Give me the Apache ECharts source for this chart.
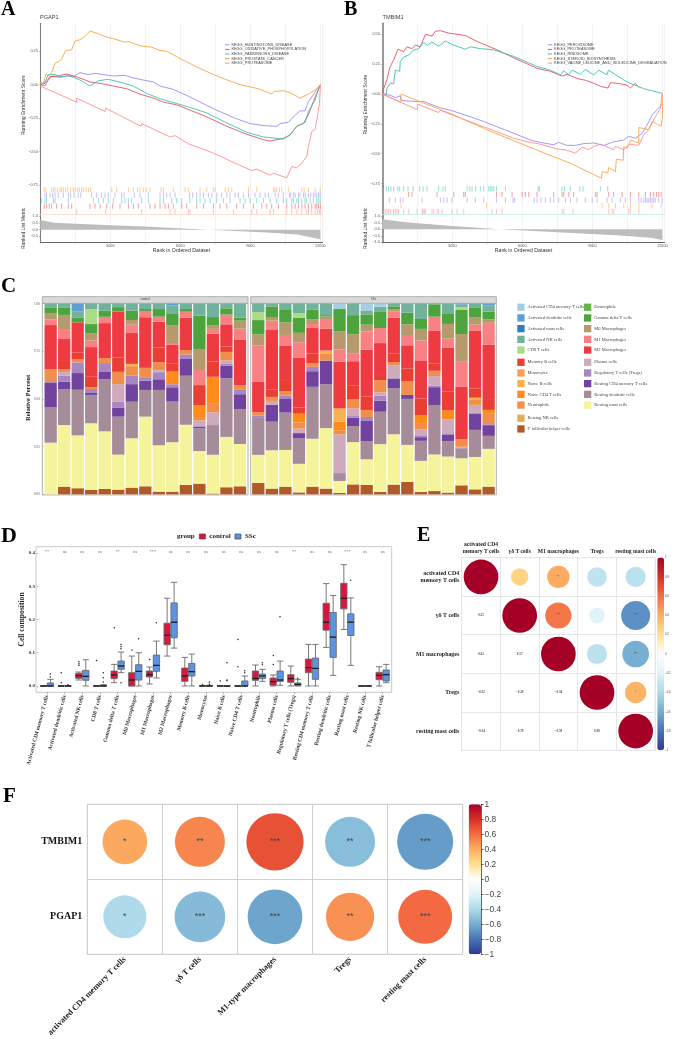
<!DOCTYPE html>
<html>
<head>
<meta charset="utf-8">
<style>html,body{margin:0;padding:0;background:#fff}#chart{width:674px;height:1039px}</style>
<script src="https://cdn.jsdelivr.net/npm/echarts@6/dist/echarts.min.js"></script>
</head>
<body>
<div id="chart"></div>
<script>
// ---------- GSEA running scores: [rank, enrichment score] ----------
const pgap1Huntington = [[0,0],[200,-.01],[345,.035],[485,.065],[770,.055],[1130,.065],[1415,.06],[1700,.09],[2060,.075],[2345,.085],[2700,.075],[3130,.065],[3630,.07],[3985,.05],[4415,.035],[4845,.02],[5130,-.01],[5700,-.035],[6275,-.08],[6845,-.13],[7560,-.19],[8275,-.245],[8990,-.29],[9560,-.305],[10130,-.31],[10275,-.29],[10630,-.28],[10845,-.24],[11130,-.195],[11345,-.195],[11490,-.125],[11700,-.075],[11845,-.035],[12000,0]];
const pgap1Oxphos = [[0,0],[200,.01],[415,.06],[770,.065],[1130,.08],[1700,.05],[2130,.02],[2560,.01],[3130,-.01],[3700,-.03],[4270,-.07],[4845,-.1],[5275,-.13],[5845,-.15],[6420,-.19],[7130,-.24],[7990,-.31],[8845,-.37],[9560,-.41],[9845,-.42],[10415,-.4],[10700,-.375],[10990,-.31],[11275,-.29],[11490,-.225],[11700,-.125],[11845,-.065],[12000,0]];
const pgap1Parkinson = [[0,0],[200,.02],[345,.075],[630,.075],[915,.055],[1200,.07],[1700,.035],[2130,-.01],[2490,.03],[2915,.04],[3415,.02],[3985,-.01],[4560,-.065],[5130,-.105],[5845,-.14],[6420,-.17],[7130,-.21],[7990,-.285],[8845,-.355],[9560,-.39],[10415,-.405],[10700,-.375],[10990,-.31],[11345,-.28],[11490,-.2],[11775,-.115],[11915,-.04],[12000,-.005]];
const pgap1Prostate = [[0,.017],[130,.01],[240,.08],[360,.065],[485,.09],[630,.16],[770,.17],[915,.19],[1085,.255],[1345,.26],[1485,.325],[1700,.335],[1915,.36],[2130,.4],[2415,.385],[2845,.355],[3200,.34],[3560,.32],[3815,.32],[4270,.29],[4770,.28],[5130,.255],[5415,.25],[5990,.195],[6845,.12],[7700,.055],[8560,0],[9345,-.03],[9915,-.07],[10015,-.05],[10415,-.045],[10775,-.065],[11130,-.1],[11490,-.07],[11775,-.04],[12000,-.005]];
const pgap1Proteasome = [[0,-.01],[1560,-.13],[1560,-.1],[2775,-.2],[2800,-.175],[4315,-.31],[4345,-.29],[5560,-.39],[5775,-.38],[6345,-.44],[6415,-.43],[7415,-.51],[8275,-.58],[9060,-.64],[9275,-.63],[9845,-.675],[9990,-.66],[10560,-.695],[10775,-.61],[10990,-.62],[11205,-.585],[11415,-.535],[11490,-.46],[11630,-.35],[11775,-.335],[11875,-.24],[11960,-.14],[12000,0]];

const tmbim1Peroxisome = [[0,0],[345,-.01],[560,-.03],[770,-.015],[815,-.055],[1630,-.065],[1745,-.06],[2130,-.09],[2490,-.115],[2985,-.14],[3770,-.19],[4345,-.23],[5060,-.285],[5775,-.34],[6415,-.39],[6775,-.405],[7345,-.425],[7560,-.405],[7915,-.43],[8275,-.43],[8630,-.415],[9060,-.41],[9490,-.43],[9915,-.4],[10345,-.385],[10560,-.355],[10845,-.37],[11130,-.33],[11345,-.26],[11560,-.175],[11775,-.13],[12000,-.085]];
const tmbim1Proteasome = [[0,0],[60,.045],[200,.12],[315,.22],[485,.285],[670,.375],[915,.355],[1060,.395],[1270,.38],[1415,.41],[1630,.395],[1745,.45],[1845,.5],[2130,.485],[2275,.525],[2490,.53],[2845,.51],[3200,.5],[3560,.49],[4060,.44],[4915,.37],[5775,.29],[6630,.215],[7200,.19],[7700,.15],[7915,.165],[8345,.13],[8700,.115],[9060,.09],[9345,.065],[9660,.05],[9775,.095],[10060,.09],[10490,.075],[10630,.05],[10845,.09],[10990,.055]];
const tmbim1Ribosome = [[0,0],[170,0],[200,.05],[345,.09],[485,.085],[560,.2],[745,.19],[770,.27],[915,.31],[1130,.325],[1315,.365],[1560,.38],[1770,.43],[1945,.41],[2130,.435],[2415,.4],[2700,.445],[2985,.415],[3560,.375],[3770,.395],[4200,.38],[4775,.37],[5630,.315],[6630,.23],[6700,.24],[7200,.2],[7630,.16],[7775,.195],[7990,.16],[8130,.2],[8490,.165],[8700,.205],[9060,.16],[9275,.2],[9630,.16],[9690,.2],[10490,.1],[11200,.045],[12000,.005]];
const tmbim1Steroid = [[0,0],[800,-.07],[800,0],[3060,-.175],[4490,-.3],[5630,-.39],[6630,-.47],[8060,-.58],[9390,-.705],[9420,-.65],[9660,-.66],[9705,-.615],[9990,-.65],[10030,-.545],[10320,-.555],[10345,-.44],[10490,-.455],[10630,-.385],[10990,-.41],[10990,-.28],[11415,-.3],[11560,-.23],[11945,-.27],[12000,-.2],[12000,0]];
const tmbim1Valine = [[0,0],[1490,-.13],[1530,-.085],[2415,-.155],[2490,-.135],[2985,-.175],[4490,-.285],[5630,-.37],[6200,-.4],[6775,-.42],[7490,-.46],[7915,-.47],[8275,-.495],[8560,-.445],[8845,-.465],[9060,-.44],[9345,-.42],[9915,-.465],[9990,-.44],[10345,-.465],[10600,-.42],[10990,-.43],[11200,-.34],[11415,-.3],[11700,-.19],[11915,-.12],[11990,.005],[12000,0]];

// ---------- Gene-set hit positions (rank) ----------
const pgap1HitsProstate = [170,240,485,560,630,730,845,915,985,1085,1170,1300,1415,1485,1585,1670,1770,1845,1960,2060,2160,3060,3275,3775,3990,4160,4270,4415,4560,4700,5175,5275,5700,6200,6345,6845,7130,7415,7490,7920,8060,8205,8920,9275,9990,10060,10130,10250,10345,10630,11205,11300,11490,11775,11990];
const pgap1HitsHuntington = [200,270,415,530,630,770,985,1200,1300,1445,1630,1730,2200,2415,2630,2775,2915,3200,3485,3590,4030,4275,4630,5130,5275,5415,5560,5775,6390,6530,6700,6845,6990,7200,7345,7560,7775,7990,8130,8345,8490,8700,8920,9200,9415,9630,9775,10060,10200,10415,10675,10730,10845,10920,11060,11130,11275,11345,11490,11590,11700,11775,11845,11920,11990];
const pgap1HitsParkinson = [60,200,270,560,630,1200,2270,2490,2700,2915,3130,3490,3630,3770,3915,4345,4630,5130,5275,5630,5845,6060,6415,6700,6845,7060,7275,7560,7845,8130,8560,8775,8990,9275,9560,9845,10130,10415,10560,10775,10845,10990,11060,11205,11345,11415,11560,11700,11845,11915,11990];
const pgap1HitsOxphos = [170,270,385,485,700,915,1200,1345,2130,2345,2560,2845,3100,3415,3775,3990,4200,4700,4915,5130,5345,5490,5700,6060,6275,6700,6990,7415,7700,7990,8415,8700,9130,9490,9700,9915,10200,10560,10775,10920,11060,11205,11345,11490,11630,11775,11845,11920,12000];
const pgap1HitsProteasome = [1560,2800,4345,5560,5775,6345,6415,7415,8275,9060,9275,9845,9990,10560,10775,10990,11205,11415,11490,11630,11775,11875,11960,12000];

const tmbim1HitsRibosome = [170,270,370,485,670,745,915,1100,1315,1600,1745,1915,2415,2600,2700,3630,3745,3845,4000,4200,4345,4560,4630,4700,4775,4890,5275,6675,6730,7700,7800,8060,8460,8600,9345,9660];
const tmbim1HitsProteasome = [1130,1270,2345,3060,3490,3560,4890,5130,5560,5990,6130,6275,6630,7345,7700,7775,7990,8200,9130,9200,9700,9915,10275,10630,10990,11275,11490,11630,11745,11845,11945];
const tmbim1HitsPeroxisome = [300,560,770,885,1700,2490,2630,2775,2985,3630,3985,4345,4890,5275,5600,5660,6515,6630,6800,6985,7200,7345,7560,7845,8060,8345,8700,8990,9200,9630,9845,10200,10415,10630,10990,11090,11205,11275,11345,11415,11490,11560,11630,11700,11845,11990];
const tmbim1HitsSteroid = [800,4460,9420,9705,9990,10345,10630,10990,11560,11945];
const tmbim1HitsValine = [60,130,200,270,345,485,560,630,700,915,1130,1490,1700,1745,1800,1845,2130,2200,2345,2415,2560,2985,3200,3490,4700,4890,5130,7700,7775,8175,9700,9845,9915,10560,10630,10990];

// ---------- Ranked list metric: [rank, metric] ----------
const pgap1Metric = [[0,.72],[600,.52],[2500,.37],[4700,.22],[7200,0],[9700,-.2],[11000,-.35],[12000,-.72]];
const tmbim1Metric = [[0,.78],[1000,.55],[3000,.25],[5000,0],[7500,-.22],[10000,-.45],[11500,-.65],[12000,-.83]];

// ---------- Immune cell composition per sample (percent) ----------
const cellOrder = ['T follicular helper cells','Resting NK cells','Resting mast cells','Resting dendritic cells','Resting CD4 memory T cells','Regulatory T cells (Tregs)','Plasma cells','Neutrophils','Naive CD4 T cells','Naive B cells','Monocytes','Memory B cells','M2 Macrophages','M1 Macrophages','M0 Macrophages','Gamma delta T cells','Eosinophils','CD8 T cells','Activated NK cells','Activated mast cells','Activated dendritic cells','Activated CD4 memory T cells'];
const cellKeys = ['tfh','rnk','mast','rdc','rcd4','treg','plas','neut','ncd4','nb','mono','memb','m2','m1','m0','gd','eos','cd8','ank','amast','adc','acd4'];
const cellColors = ['#B15928','#DDB060','#F6F49A','#A68C99','#71439F','#A786C2','#CFA9BC','#EF8F4B','#FF8C1A','#FDB050','#F99D5F','#E93E33','#EE3B41','#F98083','#B69A6E','#4DA43C','#66B34A','#A9DC85','#72B29C','#2E7FB8','#5F9FD0','#A6CEE3'];
const controlSamples = [
 {mast:27.1,rdc:18.7,rcd4:12.6,treg:.5,neut:6.8,m2:23.1,m1:3,m0:3.3,gd:3,ank:1.9},
 {tfh:4,mast:32.4,rdc:18.7,rcd4:4,treg:3.2,plas:1.9,neut:1.4,memb:4.9,m2:11.4,m1:4.9,m0:7.4,gd:4,ank:1.9},
 {tfh:3.2,mast:27.8,rdc:24,rcd4:8.8,treg:5.6,neut:1.8,memb:3.5,m2:15.8,gd:2.6,ank:3,adc:4.2},
 {tfh:2.3,mast:35,rdc:14.9,rcd4:1,treg:2.1,neut:1,memb:5.4,m2:15.6,m1:3.5,m0:3.9,gd:4.7,cd8:7.9,ank:2.8},
 {tfh:2.8,mast:30.3,rdc:27.3,rcd4:4.2,treg:4.4,neut:2.6,m2:18.4,m1:3.3,gd:3.2,ank:3.7},
 {tfh:2.5,mast:18.4,rdc:20,rcd4:4.6,treg:3.2,plas:9.3,neut:6.5,memb:7.5,m2:24.3,gd:2.3,ank:1.8},
 {tfh:3.5,mast:26.1,rdc:19.3,rcd4:9.3,treg:4.6,neut:4.9,nb:1.2,m2:16.3,m1:4.4,m0:2.5,gd:4.9,ank:3.7},
 {tfh:4.2,mast:36.6,rdc:14,rcd4:4.9,treg:1.8,neut:4.9,m2:26.6,m1:3.3,gd:1,ank:2.8},
 {tfh:1.4,mast:24.3,rdc:29,rcd4:5.6,treg:3.7,plas:1,neut:4.2,memb:7.7,m2:13.6,m1:2.6,gd:4,ank:2.8},
 {tfh:1.4,mast:25.9,rdc:21.3,rcd4:7.5,treg:1.6,ncd4:6.6,memb:4.4,m2:9.6,m1:1,m0:9.1,gd:6.5,ank:4,adc:1},
 {tfh:4.9,mast:31.6,rdc:25.7,rcd4:9.1,treg:2.1,neut:2.3,m2:17,m1:3.1,gd:1.4,ank:2.8},
 {tfh:5.6,mast:17.1,rdc:11.9,rcd4:1,plas:3.1,neut:1.8,ncd4:6.1,memb:10.7,m1:7.9,m0:11,gd:17.5,ank:6.3},
 {tfh:.4,mast:20.3,rdc:15.6,plas:6.6,neut:4.5,ncd4:14.2,memb:8,m2:14.5,m1:2.6,m0:1.7,gd:4.5,ank:7},
 {tfh:3.7,mast:26.4,rdc:30.8,rcd4:6.6,treg:.9,plas:1.9,neut:4.4,memb:2.8,m2:11.7,m1:5.1,gd:3.3,ank:2.4},
 {tfh:4.2,mast:22.2,rdc:18.2,rcd4:7.9,treg:2.3,neut:2.4,m2:24.1,m1:5.6,m0:4.2,gd:1.6,ank:7.3}
];
const sscSamples = [
 {tfh:6,mast:14.7,rdc:19.8,treg:.9,neut:1.7,m2:16.1,m1:18.9,m0:5.8,gd:7.5,cd8:4.2,ank:4.4},
 {tfh:3,mast:20.1,rdc:15,rcd4:8.8,plas:2.1,neut:2.1,memb:4,m2:31.1,m1:4.9,m0:1.9,gd:5.6,ank:1.4},
 {tfh:4,mast:19.3,rdc:19.6,rcd4:7.5,treg:1.4,neut:2.4,memb:5.8,m2:17.9,m1:5.8,m0:6.5,gd:6.6,ank:3.3},
 {tfh:1,mast:15,rdc:13.3,rcd4:2.8,plas:2.4,neut:3.2,ncd4:4.6,memb:3.2,m2:26.3,m1:8,m0:4.9,gd:8,cd8:2.4,ank:4.9},
 {tfh:4,mast:25.2,rdc:27.3,rcd4:8.2,treg:2.3,neut:1.8,memb:5.3,m2:13.3,m1:2.1,m0:2.6,gd:5.1,ank:3},
 {tfh:3,mast:31.8,rdc:23.1,rcd4:12.4,neut:3.5,nb:1.8,m2:11.4,m1:4.7,m0:1.8,gd:.7,ank:6},
 {tfh:.7,mast:6.3,rdc:3.5,rcd4:.5,plas:20.5,neut:1.9,ncd4:4.7,nb:7,m2:24.5,m1:6.5,m0:9.6,gd:11.6,acd4:2.8},
 {tfh:5.2,mast:22.2,rdc:8.4,rcd4:4.4,treg:.9,plas:4,neut:4.7,memb:7.5,m2:12.6,m1:4.2,m0:10,gd:10,ank:6},
 {tfh:4.9,mast:13.5,rdc:9.6,rcd4:10.8,treg:1.8,neut:3.7,memb:7,m2:24.7,m1:9.6,m0:3.5,gd:5.4,ank:2.1,acd4:3.5},
 {tfh:1.2,mast:25.2,rdc:17,rcd4:5.8,treg:2.6,plas:1.8,neut:6.5,memb:2.6,m2:16.8,m1:7.9,gd:8.8,ank:2.4,acd4:1.6},
 {tfh:5.1,mast:26.4,rdc:24.1,rcd4:5.2,plas:7,neut:1.6,memb:4.6,m2:18.7,m1:3.3,m0:1,gd:1.6,ank:1.4},
 {tfh:6.5,mast:19.4,rdc:24.1,rcd4:2.1,neut:7.3,memb:6.6,m2:12.1,m1:5.4,m0:5.6,gd:6.1,ank:4.7},
 {tfh:1.2,mast:16.3,rdc:10.5,rcd4:1.9,treg:1,plas:3.1,neut:3.3,ncd4:4.2,memb:8.7,m2:19.6,m1:10.7,m0:6.1,gd:5.2,ank:8},
 {tfh:1.7,mast:19.2,rdc:25.9,rcd4:9.4,treg:.7,plas:5.1,neut:2.8,memb:3.7,m2:17.5,m1:7.2,gd:6.5,ank:.3},
 {tfh:.9,mast:18.9,rdc:8,rcd4:3.3,treg:.9,plas:7.3,ncd4:4.7,memb:9.8,m2:22.9,m1:4.9,m0:7.7,gd:5.2,ank:5.4},
 {tfh:4.7,mast:14.2,rdc:5.2,treg:.5,plas:.3,neut:4,m2:27.6,m1:13.3,m0:14.2,gd:12.6,cd8:1.6,ank:1.2,adc:.5},
 {tfh:2.6,mast:17,rdc:14.2,rcd4:8.6,treg:.3,plas:4.2,neut:2.6,nb:1.2,memb:4.9,m2:30.1,m1:3.3,m0:4,gd:5.1,ank:1.9},
 {tfh:4,mast:19.8,rdc:6.8,rcd4:5.6,treg:.5,neut:5.4,ncd4:2.1,memb:5.2,m2:28.9,m1:11.5,m0:1.7,gd:4.2,ank:3.1,adc:1}
];
const legendColumnOne = [['Activated CD4 memory T cells','Activated dendritic cells','Activated mast cells','Activated NK cells','CD8 T cells'],['Memory B cells','Monocytes','Naive B cells','Naive CD4 T cells','Neutrophils'],['Resting NK cells','T follicular helper cells']];
const legendColumnTwo = [['Eosinophils','Gamma delta T cells','M0 Macrophages','M1 Macrophages','M2 Macrophages'],['Plasma cells','Regulatory T cells (Tregs)','Resting CD4 memory T cells','Resting dendritic cells','Resting mast cells']];

// ---------- Box plot summaries: [min, Q1, median, Q3, max] ----------
const boxCategories = ['Activated CD4 memory T cells','Activated dendritic cells','Activated NK cells','CD8 T cells','Gamma delta T cells','M0 Macrophages','M1 Macrophages','M2 Macrophages','Memory B cells','Monocytes','Naive B cells','Naive CD4 T cells','Neutrophils','Plasma cells','Regulatory T cells (Tregs)','Resting CD4 memory T cells','Resting dendritic cells','Resting mast cells','Resting NK cells','T follicular helper cells'];
const controlBoxes = [[0,0,0,0,0],[0,0,0,0,0],[.018,.023,.031,.038,.042],[0,0,0,0,0],[.01,.022,.033,.045,.065],[0,0,.018,.04,.09],[.006,.027,.034,.045,.057],[.09,.124,.153,.189,.264],[0,.014,.03,.054,.086],[0,0,0,.001,.001],[0,0,0,0,0],[0,0,0,0,0],[0,.017,.023,.045,.063],[0,.002,.013,.024,.033],[0,.011,.022,.034,.06],[0,.04,.055,.081,.125],[.116,.168,.192,.249,.308],[.17,.232,.264,.309,.365],[0,0,0,0,0],[0,.019,.032,.041,.058]];
const sscBoxes = [[0,0,0,.009,.02],[0,0,0,0,0],[0,.017,.029,.047,.079],[0,0,0,.002,.004],[.04,.05,.06,.075,.102],[0,.018,.044,.064,.1],[.024,.044,.062,.093,.135],[.114,.145,.192,.25,.312],[0,.03,.043,.068,.096],[0,0,0,.001,.002],[0,0,0,0,0],[0,0,0,.015,.03],[.014,.022,.03,.036,.05],[.002,.014,.018,.045,.075],[0,.001,.005,.009,.02],[0,.02,.053,.084,.125],[.032,.086,.147,.221,.272],[.062,.152,.192,.217,.265],[0,0,0,0,0],[.01,.015,.034,.048,.065]];
const controlOutliers = [[1,.01],[1,.04],[2,.062],[2,.067],[2,.073],[3,.077],[4,.175],[5,.108],[6,.08],[9,.004],[10,.015],[11,.058],[11,.14],[13,.065],[13,.092]];
const sscOutliers = [[0,.027],[0,.036],[1,.004],[3,.012],[3,.025],[3,.04],[4,.01],[4,.112],[4,.118],[4,.125],[5,.142],[6,.19],[9,.005],[9,.012],[10,.016],[10,.018],[10,.07],[11,.04],[11,.046],[12,.064],[12,.07],[13,.208],[14,.023],[17,.318]];
const boxSignificance = ['**','ns','ns','ns','**','ns','***','ns','ns','ns','ns','ns','ns','ns','**','ns','ns','***','ns','ns'];

// ---------- Correlation matrices ----------
const immuneLabels = ['activated CD4\nmemory T cells','γδ T cells','M1 macrophages','Tregs','resting mast cells'];
const immuneCorr = [[1,.25,.41,-.32,-.34],[.25,1,.57,-.2,-.7],[.41,.57,1,-.34,-.59],[-.32,-.2,-.34,1,.38],[-.34,-.7,-.59,.38,1]];
const immuneStars = [['***','','**','',''],['','***','***','','***'],['','','***','','***'],['','','','***','*'],['','','','','***']];
const geneLabels = ['TMBIM1','PGAP1'];
const geneCellLabels = ['activated CD4 memory T cells','γδ T cells','M1-type macrophages','Tregs','resting mast cells'];
const geneCorr = [[.42,.525,.69,-.525,-.66],[-.39,-.54,-.63,.49,.61]];
const geneStars = [['*','**','***','**','***'],['*','***','***','**','***']];
const corrPalette = ['#313695','#4575B4','#74ADD1','#ABD9E9','#E0F3F8','#FFFFFF','#FEE090','#FDAE61','#F46D43','#D73027','#A50026'];

const SERIF = '"Liberation Serif","Times New Roman",serif';
const SANS = '"Liberation Sans",Arial,sans-serif';
const PURPLE = '#9A8CF2', RED = '#E5545A', TEAL = '#3FC1B0', ORANGE = '#FBA644', PINK = '#FF8F93';

const grid = [], xAxis = [], yAxis = [], series = [], title = [], legend = [], graphic = [], visualMap = [];

// Registers one grid with its axes and returns the shared index.
function addGrid(box, x, y) {
  grid.push(Object.assign({containLabel: false}, box));
  const g = grid.length - 1;
  xAxis.push(Object.assign({gridIndex: g}, x));
  yAxis.push(Object.assign({gridIndex: g}, y));
  return g;
}
function text(t, left, top, size, font, weight, color) {
  title.push({text: t, left, top, padding: 0, textStyle: {fontSize: size, fontFamily: font, fontWeight: weight || 'normal', color: color || '#222'}});
}
const signedFixed = d => v => v.toFixed(d).replace('-', '−');

// Draws one GSEA panel: running score, hit rug and ranked metric.
function gseaPanel(cfg) {
  const rankX = {type: 'value', min: 0, max: 12100, interval: 1500, axisLine: {show: false}, axisTick: {show: false}, axisLabel: {show: false}, splitLine: {show: true, lineStyle: {color: '#EDEDED', width: .7}}};
  const leftLine = {show: true, onZero: false, lineStyle: {color: '#808080', width: cfg.axisWidth}};
  const scoreAxis = {type: 'value', min: cfg.scoreMin, max: cfg.scoreMax, axisLine: leftLine, splitLine: {show: false},
    axisTick: {show: true, length: 1.5, lineStyle: {color: '#888', width: .5}, customValues: cfg.scoreTicks},
    axisLabel: {fontSize: 3.8, color: '#555', fontFamily: SANS, margin: 2.5, formatter: signedFixed(2), customValues: cfg.scoreTicks},
    name: 'Running Enrichment Score', nameLocation: 'middle', nameGap: cfg.nameGap, nameMoveOverlap: false, nameRotate: 90, nameTextStyle: {fontSize: 5, color: '#333', fontFamily: SANS}};
  const g1 = addGrid({left: cfg.left, width: cfg.width, top: 23.3, height: cfg.runHeight}, rankX, scoreAxis);
  cfg.curves.forEach(c => series.push({name: c.name, type: 'line', xAxisIndex: g1, yAxisIndex: g1, data: c.data, showSymbol: false, symbol: 'none', smooth: false, lineStyle: {color: c.color, width: .9}, itemStyle: {color: c.color}, silent: true, z: 3}));

  const rowNames = cfg.hits.map(h => h.row);
  const g2 = addGrid({left: cfg.left, width: cfg.width, top: cfg.rugTop, height: 214.3 - cfg.rugTop},
    Object.assign({}, rankX, {axisLine: {show: true, onZero: false, lineStyle: {color: cfg.baseline, width: .8}}}),
    {type: 'category', data: rowNames, inverse: true, axisLine: leftLine, axisTick: {show: false}, axisLabel: {show: false}, splitLine: {show: false}});
  cfg.hits.forEach(h => series.push({name: h.row, type: 'scatter', xAxisIndex: g2, yAxisIndex: g2, symbol: 'rect', symbolSize: [1, 5.2],
    data: h.ranks.map(r => [r, h.row]), itemStyle: {color: h.color, opacity: .55}, silent: true}));

  const metricAxis = {type: 'value', min: cfg.metricMin, max: cfg.metricMax, axisLine: leftLine, splitLine: {show: false},
    axisTick: {show: true, length: 1.5, lineStyle: {color: '#888', width: .5}, customValues: cfg.metricTicks},
    axisLabel: {fontSize: 3.8, color: '#555', fontFamily: SANS, margin: 2.5, formatter: signedFixed(1), customValues: cfg.metricTicks},
    name: 'Ranked List Metric', nameLocation: 'middle', nameGap: cfg.nameGap, nameMoveOverlap: false, nameRotate: 90, nameTextStyle: {fontSize: 5, color: '#333', fontFamily: SANS}};
  const g3 = addGrid({left: cfg.left, width: cfg.width, top: 214.3, height: 28},
    Object.assign({}, rankX, {axisLine: {show: true, onZero: false, lineStyle: {color: '#666', width: 1}},
      axisTick: {show: true, length: 1.5, lineStyle: {color: '#888', width: .5}},
      axisLabel: {show: true, fontSize: 3.8, color: '#555', fontFamily: SANS, margin: 1.5, showMaxLabel: false, formatter: v => (v > 0 && v % 3000 === 0) ? String(v) : ''},
      name: 'Rank in Ordered Dataset', nameLocation: 'middle', nameGap: 5.8, nameMoveOverlap: false, nameTextStyle: {fontSize: 5.2, color: '#333', fontFamily: SANS}}),
    metricAxis);
  series.push({name: cfg.gene + ' metric', type: 'line', xAxisIndex: g3, yAxisIndex: g3, data: cfg.metric, showSymbol: false, symbol: 'none', lineStyle: {width: 0}, areaStyle: {color: '#BDBDBD', opacity: 1}, silent: true});

  legend.push({show: true, orient: 'vertical', left: cfg.legendLeft, top: 42.8, padding: 0, itemGap: .6, itemWidth: 4.4, itemHeight: 1, icon: 'rect', selectedMode: false, textStyle: {fontSize: 3.9, fontFamily: SANS, color: '#444', padding: [0, 0, 0, -3]},
    data: cfg.curves.map(c => ({name: c.name, itemStyle: {color: c.color}, textStyle: {fontSize: 3.9}}))});
}

gseaPanel({gene: 'PGAP1', left: 40.3, width: 282.4, runHeight: 163.7, rugTop: 187, scoreMin: -.763, scoreMax: .458, scoreTicks: [-.75, -.5, -.25, 0, .25],
  metricMin: -.94, metricMax: 1.15, metricTicks: [-.5, 0, .5, 1], nameGap: 13.8, axisWidth: 1.1, baseline: '#FFD9C4', legendLeft: 225, metric: pgap1Metric,
  curves: [{name: 'KEGG_HUNTINGTONS_DISEASE', color: PURPLE, data: pgap1Huntington}, {name: 'KEGG_OXIDATIVE_PHOSPHORYLATION', color: RED, data: pgap1Oxphos}, {name: 'KEGG_PARKINSONS_DISEASE', color: TEAL, data: pgap1Parkinson}, {name: 'KEGG_PROSTATE_CANCER', color: ORANGE, data: pgap1Prostate}, {name: 'KEGG_PROTEASOME', color: PINK, data: pgap1Proteasome}],
  hits: [{row: 'PGAP1 prostate', color: ORANGE, ranks: pgap1HitsProstate}, {row: 'PGAP1 huntington', color: PURPLE, ranks: pgap1HitsHuntington}, {row: 'PGAP1 parkinson', color: TEAL, ranks: pgap1HitsParkinson}, {row: 'PGAP1 oxphos', color: RED, ranks: pgap1HitsOxphos}, {row: 'PGAP1 proteasome', color: PINK, ranks: pgap1HitsProteasome}]});

gseaPanel({gene: 'TMBIM1', left: 382.3, width: 282.4, runHeight: 162.7, rugTop: 186, scoreMin: -.77, scoreMax: .592, scoreTicks: [-.75, -.5, -.25, 0, .25, .5],
  metricMin: -1.0, metricMax: 1.16, metricTicks: [-1, -.5, 0, .5, 1], nameGap: 14.5, axisWidth: 1.6, baseline: '#BFEDE6', legendLeft: 547.7, metric: tmbim1Metric,
  curves: [{name: 'KEGG_PEROXISOME', color: PURPLE, data: tmbim1Peroxisome}, {name: 'KEGG_PROTEASOME', color: RED, data: tmbim1Proteasome}, {name: 'KEGG_RIBOSOME', color: TEAL, data: tmbim1Ribosome}, {name: 'KEGG_STEROID_BIOSYNTHESIS', color: ORANGE, data: tmbim1Steroid}, {name: 'KEGG_VALINE_LEUCINE_AND_ISOLEUCINE_DEGRADATION', color: PINK, data: tmbim1Valine}],
  hits: [{row: 'TMBIM1 ribosome', color: TEAL, ranks: tmbim1HitsRibosome}, {row: 'TMBIM1 proteasome', color: RED, ranks: tmbim1HitsProteasome}, {row: 'TMBIM1 peroxisome', color: PURPLE, ranks: tmbim1HitsPeroxisome}, {row: 'TMBIM1 steroid', color: ORANGE, ranks: tmbim1HitsSteroid}, {row: 'TMBIM1 valine', color: PINK, ranks: tmbim1HitsValine}]});

text('PGAP1', 40, 14.6, 5.6, SANS, 'normal', '#444');
text('TMBIM1', 382.5, 14.6, 5.6, SANS, 'normal', '#444');

// ---------- Stacked composition facets ----------
function compositionFacet(samples, box, withAxis, frame, strip) {
  const normal = samples.map(s => {
    const total = cellKeys.reduce((a, k) => a + (s[k] || 0), 0);
    return cellKeys.map(k => (s[k] || 0) / total * 100);
  });
  const g = addGrid(box,
    {type: 'category', data: samples.map((_, i) => i + 1), axisLine: {show: false}, axisTick: {show: false}, axisLabel: {show: false}},
    {type: 'value', min: 0, max: 100, interval: 25, splitLine: {show: false}, axisLine: {show: false, onZero: false},
      axisTick: {show: withAxis, length: 1.5, lineStyle: {color: '#888', width: .5}, inside: false},
      axisLabel: {show: withAxis, fontSize: 3.4, color: '#555', fontFamily: SERIF, margin: 4, formatter: v => (v / 100).toFixed(2)}});
  cellOrder.forEach((name, c) => series.push({name, type: 'bar', stack: 'facet' + g, xAxisIndex: g, yAxisIndex: g, barWidth: 12.3,
    data: normal.map(row => row[c]), itemStyle: {color: cellColors[c]}, silent: true}));
  graphic.push({type: 'rect', shape: frame, style: {fill: 'none', stroke: '#AEAEAE', lineWidth: 1}, z: 0, silent: true});
  graphic.push({type: 'rect', shape: strip, style: {fill: '#D9D9D9', stroke: '#AEAEAE', lineWidth: 1}, z: 0, silent: true});
}
compositionFacet(controlSamples, {left: 43.9, width: 202.8, top: 303.7, height: 190.6}, true, {x: 42.3, y: 303.3, width: 205.7, height: 191.6}, {x: 42.3, y: 296.7, width: 205.7, height: 6.6});
compositionFacet(sscSamples, {left: 251.5, width: 243.9, top: 303.7, height: 190.6}, false, {x: 250.7, y: 303.3, width: 245.6, height: 191.6}, {x: 250.7, y: 296.7, width: 245.6, height: 6.6});
title.push({text: 'control', left: 145, top: 298, padding: 0, textAlign: 'center', textStyle: {fontSize: 3.4, color: '#333', fontFamily: SERIF, fontWeight: 'normal'}});
title.push({text: 'SSc', left: 373.5, top: 298, padding: 0, textAlign: 'center', textStyle: {fontSize: 3.4, color: '#333', fontFamily: SERIF, fontWeight: 'normal'}});
// Rotated axis caption of the composition panel
graphic.push({type: 'text', x: 28, y: 398, rotation: Math.PI / 2, style: {text: 'Relative Percent', fill: '#222', font: 'bold 6.6px ' + SERIF, align: 'center', verticalAlign: 'middle'}, silent: true});

function cellLegend(names, left, top) {
  legend.push({orient: 'vertical', left, top, padding: 0, itemGap: 3.4, itemWidth: 7.3, itemHeight: 7.3, icon: 'rect', selectedMode: false, data: names,
    textStyle: {fontSize: 4.5, fontFamily: SERIF, color: '#444', padding: [0, 0, 0, -2]}});
}
cellLegend(legendColumnOne[0], 517.3, 303.6);
cellLegend(legendColumnOne[1], 517.3, 358.6);
cellLegend(legendColumnOne[2], 517.3, 414.6);
cellLegend(legendColumnTwo[0], 584, 303.6);
cellLegend(legendColumnTwo[1], 584, 358.6);

// ---------- Box plots by group ----------
const boxOffset = .19;
const CONTROL_RED = '#DC1440', SSC_BLUE = '#5B93E6';
const gBox = addGrid({left: 38.1, width: 353.4, top: 546.7, height: 145.6},
  {type: 'category', data: boxCategories, axisLine: {show: false, onZero: false}, splitLine: {show: false},
    axisTick: {show: true, alignWithLabel: true, length: 2, lineStyle: {color: '#888', width: .6}},
    axisLabel: {interval: 0, rotate: 75, fontSize: 5.5, fontWeight: 'bold', fontFamily: SERIF, color: '#333', margin: 3, hideOverlap: false}},
  {type: 'value', min: -.019, max: .419, splitLine: {show: false}, axisLine: {show: false, onZero: false},
    axisTick: {show: true, length: 1.5, lineStyle: {color: '#888', width: .6}, customValues: [0, .1, .2, .3, .4]},
    axisLabel: {fontSize: 5, fontWeight: 'bold', fontFamily: SERIF, color: '#333', margin: 3, formatter: v => v.toFixed(1), customValues: [0, .1, .2, .3, .4]},
    name: 'Cell composition', nameLocation: 'middle', nameGap: 12.3, nameMoveOverlap: false, nameRotate: 90, nameTextStyle: {fontSize: 7.6, fontWeight: 'bold', fontFamily: SERIF, color: '#222'}});
graphic.push({type: 'rect', shape: {x: 36, y: 546.7, width: 355.7, height: 145.6}, style: {fill: 'none', stroke: '#C9C9C9', lineWidth: 1}, z: 0, silent: true});

// Series tagged with overlay sit on a hidden numeric x axis appended after all grids.
const overlaySeries = [];
[['control', controlBoxes, controlOutliers, CONTROL_RED, -boxOffset], ['SSc', sscBoxes, sscOutliers, SSC_BLUE, boxOffset]].forEach(([name, boxes, outs, color, off]) => {
  series.push({name, type: 'boxplot', xAxisIndex: gBox, yAxisIndex: gBox, data: boxes, boxWidth: [6.3, 6.3], itemStyle: {color, borderColor: '#6A6A6A', borderWidth: .9}, silent: true, z: 3});
  const median = {name: name + ' median', type: 'scatter', yAxisIndex: gBox, symbol: 'rect', symbolSize: [6.3, 1.1], data: boxes.map((b, i) => [i + off, b[2]]), itemStyle: {color: '#111', opacity: 1}, silent: true, z: 4};
  const outliers = {name: name + ' outliers', type: 'scatter', yAxisIndex: gBox, symbolSize: 1.5, data: outs.map(o => [o[0] + off, o[1]]), itemStyle: {color: '#222', opacity: 1}, silent: true, z: 4};
  series.push(median, outliers);
  overlaySeries.push(median, outliers);
});
const sigSeries = {name: 'significance', type: 'scatter', yAxisIndex: gBox, symbolSize: 0, silent: true,
  data: boxSignificance.map((s, i) => [i, .405]),
  label: {show: true, position: 'inside', fontSize: 4.4, fontFamily: SERIF, color: '#444', formatter: p => boxSignificance[p.dataIndex]}};
series.push(sigSeries);
overlaySeries.push(sigSeries);
legend.push({orient: 'horizontal', left: 199, top: 533, padding: 0, itemGap: 4, itemWidth: 6, itemHeight: 5, icon: 'rect', selectedMode: false,
  data: [{name: 'control', itemStyle: {color: CONTROL_RED, borderColor: '#444', borderWidth: .7}}, {name: 'SSc', itemStyle: {color: SSC_BLUE, borderColor: '#444', borderWidth: .7}}],
  textStyle: {fontSize: 7, fontWeight: 'bold', fontFamily: SERIF, color: '#222', padding: [0, 0, 0, -1]}});
text('group', 177, 532.5, 7, SERIF, 'bold', '#222');

// ---------- Correlation panels ----------
function corrGrid(box, xNames, yNames, xOpt, yOpt) {
  return addGrid(Object.assign({show: true, borderColor: box.border, borderWidth: 1}, box),
    Object.assign({type: 'category', data: xNames, axisLine: {show: false}, axisTick: {show: false}, splitLine: {show: true, interval: 0, lineStyle: {color: box.border, width: 1}}}, xOpt),
    Object.assign({type: 'category', data: yNames, inverse: true, axisLine: {show: false}, axisTick: {show: false}, splitLine: {show: true, interval: 0, lineStyle: {color: box.border, width: 1}}}, yOpt));
}
function colorBar(seriesIdx, box, labelFont, tick, line) {
  visualMap.push({type: 'continuous', min: -1, max: 1, seriesIndex: seriesIdx, dimension: 2, calculable: false, hoverLink: false, text: null, showLabel: false, padding: 0,
    left: box.left, top: box.top, itemWidth: box.width, itemHeight: box.height, inRange: {color: corrPalette}, textStyle: {fontSize: 1, color: 'rgba(0,0,0,0)'}});
  addGrid({left: box.left + box.width - 1, width: 1, top: box.top, height: box.height},
    {type: 'value', show: false, min: 0, max: 1},
    {type: 'value', min: -1, max: 1, interval: .2, position: 'right', splitLine: {show: false},
      axisLine: {show: line, onZero: false, lineStyle: {color: '#444', width: .8}},
      axisTick: {show: tick > 0, inside: false, length: tick, lineStyle: {color: '#333', width: .7}},
      axisLabel: Object.assign({color: '#444', fontFamily: SANS, inside: false, formatter: v => String(+v.toFixed(1)).replace('-', '−')}, labelFont)});
}

const gE = corrGrid({left: 461.7, width: 193.3, top: 557.7, height: 192.6, border: '#E6E6E6'}, immuneLabels, immuneLabels,
  {position: 'top', axisLabel: {interval: 0, fontSize: 5.6, fontWeight: 'bold', fontFamily: SERIF, color: '#222', margin: 3, lineHeight: 6.5}},
  {axisLabel: {interval: 0, fontSize: 5.9, fontWeight: 'bold', fontFamily: SERIF, color: '#222', margin: 2.5, lineHeight: 7}});
const upperCells = [], lowerCells = [];
immuneCorr.forEach((row, r) => row.forEach((v, c) => (c >= r ? upperCells : lowerCells).push([c, r, v, immuneStars[r][c]])));
series.push({name: 'immune correlation', type: 'scatter', xAxisIndex: gE, yAxisIndex: gE, data: upperCells, symbolSize: d => Math.sqrt(Math.abs(d[2])) * 34.7, itemStyle: {opacity: 1}, silent: true,
  label: {show: true, position: 'inside', fontSize: 3, color: '#444', formatter: p => p.data[3]}});
const sE = series.length - 1;
series.push({name: 'immune correlation values', type: 'scatter', xAxisIndex: gE, yAxisIndex: gE, data: lowerCells, symbolSize: 0, silent: true,
  label: {show: true, position: 'inside', fontSize: 3.3, fontWeight: 'bold', fontFamily: SERIF, color: '#222', formatter: p => p.data[2].toFixed(2).replace('-', '−')}});
colorBar(sE, {left: 657.3, width: 6.7, top: 557.5, height: 192.8}, {fontSize: 2.8, margin: 1}, 0, false);

const gF = corrGrid({left: 87.3, width: 375.4, top: 804.3, height: 150, border: '#CFCFCF'}, geneCellLabels, geneLabels,
  {axisLabel: {interval: 0, rotate: 45, fontSize: 8.3, fontWeight: 'bold', fontFamily: SERIF, color: '#222', margin: 4, hideOverlap: false}},
  {axisLabel: {interval: 0, fontSize: 10, fontWeight: 'bold', fontFamily: SERIF, color: '#111', margin: 5}});
const geneCells = [];
geneCorr.forEach((row, r) => row.forEach((v, c) => geneCells.push([c, r, v, geneStars[r][c]])));
series.push({name: 'gene correlation', type: 'scatter', xAxisIndex: gF, yAxisIndex: gF, data: geneCells, symbolSize: d => Math.sqrt(Math.abs(d[2])) * 69, itemStyle: {opacity: 1}, silent: true,
  label: {show: true, position: 'inside', fontSize: 9, color: '#444', fontFamily: SANS, formatter: p => p.data[3]}});
const sF = series.length - 1;
colorBar(sF, {left: 468.7, width: 12.3, top: 804.3, height: 150}, {fontSize: 8.4, margin: 3.5}, 2.7, true);

// Hidden numeric axis over the box plot's categories; medians, outliers and significance use it.
xAxis.push({gridIndex: gBox, type: 'value', min: -.5, max: 19.5, show: false});
overlaySeries.forEach(s => { s.xAxisIndex = xAxis.length - 1; });

// ---------- Panel letters ----------
text('A', 1, 0, 20, SERIF, 'bold', '#000');
text('B', 344, 0, 20, SERIF, 'bold', '#000');
text('C', 1, 276, 21, SERIF, 'bold', '#000');
text('D', 1, 525, 22, SERIF, 'bold', '#000');
text('E', 417, 526, 20, SERIF, 'bold', '#000');
text('F', 3, 786, 21, SERIF, 'bold', '#000');

const chart = echarts.init(document.getElementById('chart'), null, {renderer: 'canvas'});
chart.setOption({animation: false, backgroundColor: '#fff', tooltip: {show: false}, title, grid, xAxis, yAxis, series, legend, visualMap, graphic: {elements: graphic}});
</script>
</body>
</html>
